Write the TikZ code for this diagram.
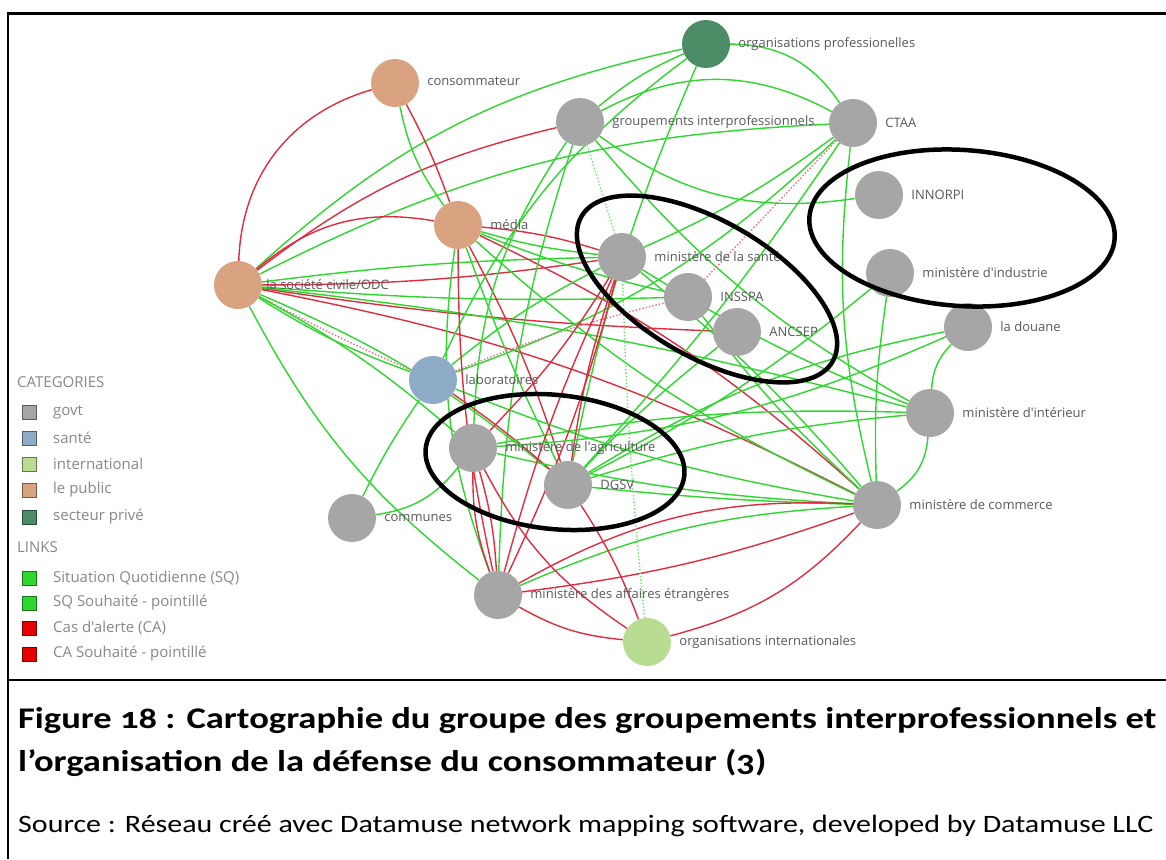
\documentclass[tikz,border=0pt]{standalone}
\usepackage{fontspec}
\setmainfont{Carlito}
\newfontfamily\netfont{Open Sans}
\newfontfamily\capfont{Carlito}[Numbers=OldStyle]
\usetikzlibrary{backgrounds,calc}

\definecolor{govt}{RGB}{166,166,166}
\definecolor{santecol}{RGB}{142,172,200}
\definecolor{intl}{RGB}{184,220,146}
\definecolor{public}{RGB}{217,163,130}
\definecolor{prive}{RGB}{76,140,102}
\definecolor{sqgreen}{RGB}{45,215,45}
\definecolor{cared}{RGB}{222,45,65}
\definecolor{lbltext}{RGB}{88,88,88}
\definecolor{legtext}{RGB}{135,135,135}

\newsavebox\capboxA
\newsavebox\capboxB
\newsavebox\srcbox
\newlength\capwd

\tikzset{
  ent/.style={circle, minimum size=48pt, inner sep=0pt, draw=none},
  lbl/.style={font=\netfont\fontsize{13pt}{15pt}\selectfont, text=lbltext, inner sep=1pt},
  sq/.style={draw=sqgreen, line width=1.4pt},
  sqd/.style={draw=sqgreen!70, line width=1.4pt, dotted},
  ca/.style={draw=cared, line width=1.4pt},
  cad/.style={draw=cared!70, line width=1.4pt, dotted},
  cluster/.style={draw=black, line width=4.5pt},
  legsq/.style={rectangle, minimum size=14pt, inner sep=0pt, line width=1pt},
  legtxt/.style={font=\netfont\fontsize{15pt}{17pt}\selectfont, text=legtext, inner sep=0pt, anchor=west},
}

\begin{document}
\begin{tikzpicture}[x=1pt, y=-1pt, label distance=7pt]
\useasboundingbox (0,0) rectangle (1166,859);

% frame
\draw[line width=3pt] (8,14) -- (1166,14);
\draw[line width=2pt] (8,12.5) -- (8,859);
\draw[line width=2.5pt] (8,680) -- (1166,680);

% entities
\node[ent, fill=prive, label={[lbl]0:organisations professionelles}] (op) at (706,44) {};
\node[ent, fill=public, label={[lbl,yshift=2pt]0:consommateur}] (cons) at (395,83) {};
\node[ent, fill=govt, label={[lbl]0:groupements interprofessionnels}] (grp) at (580,122) {};
\node[ent, fill=govt, label={[lbl]0:CTAA}] (ctaa) at (853,123) {};
\node[ent, fill=govt, label={[lbl]0:INNORPI}] (innorpi) at (879,195) {};
\node[ent, fill=public, label={[lbl]0:média}] (media) at (458,225) {};
\node[ent, fill=govt, label={[lbl]0:ministère de la santé}] (sante) at (622,257) {};
\node[ent, fill=govt, label={[lbl]0:ministère d'industrie}] (industrie) at (890,273) {};
\node[ent, fill=public, label={[lbl,label distance=3pt]0:la société civile/ODC}] (soc) at (238,285) {};
\node[ent, fill=govt, label={[lbl]0:INSSPA}] (insspa) at (688,297) {};
\node[ent, fill=govt, label={[lbl]0:ANCSEP}] (ancsep) at (737,332) {};
\node[ent, fill=govt, label={[lbl]0:la douane}] (douane) at (968,327) {};
\node[ent, fill=santecol, label={[lbl]0:laboratoires}] (labo) at (433,380) {};
\node[ent, fill=govt, label={[lbl]0:ministère d'intérieur}] (interieur) at (930,413) {};
\node[ent, fill=govt, label={[lbl]0:ministère de l'agriculture}] (agri) at (473,448) {};
\node[ent, fill=govt, label={[lbl]0:DGSV}] (dgsv) at (568,485) {};
\node[ent, fill=govt, label={[lbl]0:ministère de commerce}] (commerce) at (877,505) {};
\node[ent, fill=govt, label={[lbl]0:communes}] (communes) at (352,518) {};
\node[ent, fill=govt, label={[lbl]0:ministère des affaires étrangères}] (aff) at (498,595) {};
\node[ent, fill=intl, label={[lbl]0:organisations internationales}] (orgint) at (647,642) {};

% links, kept behind the entities
\begin{scope}[on background layer]
  % la société civile
  \draw[ca] (soc) to[bend left=36] (cons);
  \draw[sq] (soc) to[bend left=15] (op);
  \draw[sq] (soc) to[bend left=12] (ctaa);
  \draw[ca] (soc) to[bend left=12] (grp);
  \draw[ca] (soc) to[bend left=25] (media);
  \draw[sq] (soc) to[bend left=3] (sante);
  \draw[ca] (soc) to[bend right=4] (sante);
  \draw[sq] (soc) to[bend right=3] (insspa);
  \draw[ca] (soc) to[bend right=3] (ancsep);
  \draw[ca] (soc) to[bend left=8] (commerce);
  \draw[sq] (soc) to[bend right=6] (labo);
  \draw[cad] (soc) to[bend right=2] (labo);
  \draw[sq] (soc) to[bend left=6] (agri);
  \draw[sq] (soc) to[bend left=8] (dgsv);
  \draw[sq] (soc) to[bend right=12] (aff);
  \draw[sq] (soc) to[bend left=4] (interieur);
  % consommateur, média
  \draw[ca] (cons) to[bend left=4] (media);
  \draw[sq] (cons) to[bend right=12] (media);
  \draw[sq] (media) to[bend right=5] (sante);
  \draw[ca] (media) to[bend left=6] (sante);
  \draw[sq] (media) to[bend right=4] (insspa);
  \draw[ca] (media) to[bend left=5] (dgsv);
  \draw[sq] (media) to[bend right=3] (dgsv);
  \draw[ca] (media) to[bend left=8] (commerce);
  \draw[sq] (media) to[bend right=8] (commerce);
  \draw[sq] (media) to[bend right=14] (aff);
  % organisations professionelles, groupements, CTAA
  \draw[sq] (op) to[bend right=8] (grp);
  \draw[sq] (op) to[bend left=28] (ctaa);
  \draw[sq] (grp) to[bend left=28] (ctaa);
  \draw[sq] (grp) to[bend right=22] (innorpi);
  \draw[sq] (grp) to[bend right=10] (interieur);
  \draw[sqd] (grp) to (sante);
  \draw[sq] (grp) to[bend right=16] (agri);
  \draw[sq] (grp) to[bend right=8] (aff);
  \draw[sq] (op) to[bend right=14] (labo);
  \draw[sq] (op) to[bend right=6] (dgsv);
  \draw[sq] (ctaa) to[bend left=6] (sante);
  \draw[sq] (ctaa) to[bend left=12] (labo);
  \draw[sq] (ctaa) to[bend left=4] (dgsv);
  \draw[cad] (ctaa) to (insspa);
  \draw[sq] (ctaa) to[bend right=10] (commerce);
  % laboratoires, agriculture, DGSV, communes
  \draw[sq] (labo) to[bend left=6] (sante);
  \draw[ca] (labo) to[bend left=3] (dgsv);
  \draw[sq] (labo) to[bend right=4] (communes);
  \draw[sq] (labo) to[bend right=6] (commerce);
  \draw[cad] (labo) to[bend left=4] (insspa);
  \draw[sq] (communes) to[bend right=22] (agri);
  \draw[sq] (agri) to[bend right=5] (commerce);
  \draw[sq] (agri) to[bend left=6] (interieur);
  \draw[sq] (dgsv) to[bend right=2] (commerce);
  \draw[sq] (dgsv) to[bend left=6] (interieur);
  \draw[sq] (dgsv) to[bend left=10] (douane);
  \draw[sq] (ancsep) to[bend right=4] (dgsv);
  \draw[ca] (sante) to[bend right=5] (dgsv);
  \draw[ca] (sante) to[bend left=6] (agri);
  % affaires étrangères, organisations internationales
  \draw[sq] (aff) to[bend left=10] (commerce);
  \draw[ca] (aff) to[bend left=16] (commerce);
  \draw[ca] (aff) to[bend right=6] (commerce);
  \draw[ca] (aff) to[bend left=5] (sante);
  \draw[ca] (aff) to[bend right=5] (sante);
  \draw[ca] (aff) to[bend left=6] (media);
  \draw[ca] (aff) to[bend right=12] (orgint);
  \draw[ca] (agri) to[bend right=10] (aff);
  \draw[ca] (agri) to[bend left=6] (aff);
  \draw[ca] (agri) to[bend right=14] (orgint);
  \draw[ca] (dgsv) to[bend left=6] (orgint);
  \draw[ca] (orgint) to[bend right=16] (commerce);
  \draw[sqd] (orgint) to[bend left=2] (sante);
  % the ministries on the right
  \draw[sq] (interieur) to[bend left=25] (commerce);
  \draw[sq] (interieur) to[bend left=20] (douane);
  \draw[sq] (industrie) to[bend right=5] (commerce);
  \draw[sq] (industrie) to[bend left=6] (dgsv);
  \draw[sq] (douane) to[bend left=10] (agri);
  \draw[sq] (interieur) to[bend left=5] (sante);
  \draw[sq] (commerce) to[bend left=5] (insspa);
  \draw[sq] (commerce) to[bend right=5] (sante);
\end{scope}

% groups circled by hand
\draw[cluster, rotate around={-30:(707,289)}] (707,289) ellipse (145 and 68);
\draw[cluster, rotate around={-4:(962,228)}] (962,228) ellipse (153 and 78);
\draw[cluster, rotate around={-6:(555,462)}] (555,462) ellipse (130 and 67);

% legend
\node[legtxt] (catT) at (17,382) {CATEGORIES};
\node[legsq, fill=govt, draw=govt!55!black] (k1) at (29,412) {};
\node[legtxt] (t1) at (53,412) {govt};
\node[legsq, fill=santecol, draw=santecol!55!black] (k2) at (29,438) {};
\node[legtxt] (t2) at (53,438) {santé};
\node[legsq, fill=intl, draw=intl!55!black] (k3) at (29,464) {};
\node[legtxt] (t3) at (53,464) {international};
\node[legsq, fill=public, draw=public!55!black] (k4) at (29,490) {};
\node[legtxt] (t4) at (53,490) {le public};
\node[legsq, fill=prive, draw=prive!55!black] (k5) at (29,517) {};
\node[legtxt] (t5) at (53,517) {secteur privé};
\node[legtxt] (linkT) at (17,547) {LINKS};
\node[legsq, fill=sqgreen, draw=sqgreen!55!black] (l1) at (29,578) {};
\node[legtxt] (u1) at (53,578) {Situation Quotidienne (SQ)};
\node[legsq, fill=sqgreen, draw=sqgreen!55!black] (l2) at (29,603) {};
\node[legtxt] (u2) at (53,603) {SQ Souhaité - pointillé};
\node[legsq, fill=red!90!black, draw=red!50!black] (l3) at (29,628) {};
\node[legtxt] (u3) at (53,628) {Cas d'alerte (CA)};
\node[legsq, fill=red!90!black, draw=red!50!black] (l4) at (29,654) {};
\node[legtxt] (u4) at (53,654) {CA Souhaité - pointillé};

% caption and source, fitted to the width of the frame
\node[anchor=base west, inner sep=0pt] (capA) at (18,728) {%
  \sbox\capboxA{\capfont\bfseries\fontsize{30pt}{34pt}\selectfont Figure 18 : Cartographie du groupe des groupements interprofessionnels et}%
  \global\capwd=\wd\capboxA
  \resizebox{1138pt}{\height}{\usebox\capboxA}};
\node[anchor=base west, inner sep=0pt] (capB) at (18,771) {%
  \sbox\capboxB{\capfont\bfseries\fontsize{30pt}{34pt}\selectfont l’organisation de la défense du consommateur (3)}%
  \pgfmathsetmacro\capfac{1138/\capwd}%
  \scalebox{\capfac}[1]{\usebox\capboxB}};
\node[anchor=base west, inner sep=0pt] (src) at (18,832) {%
  \sbox\srcbox{\capfont\fontsize{25pt}{30pt}\selectfont Source : Réseau créé avec Datamuse network mapping software, developed by Datamuse LLC}%
  \resizebox{1135pt}{\height}{\usebox\srcbox}};
\end{tikzpicture}
\end{document}
